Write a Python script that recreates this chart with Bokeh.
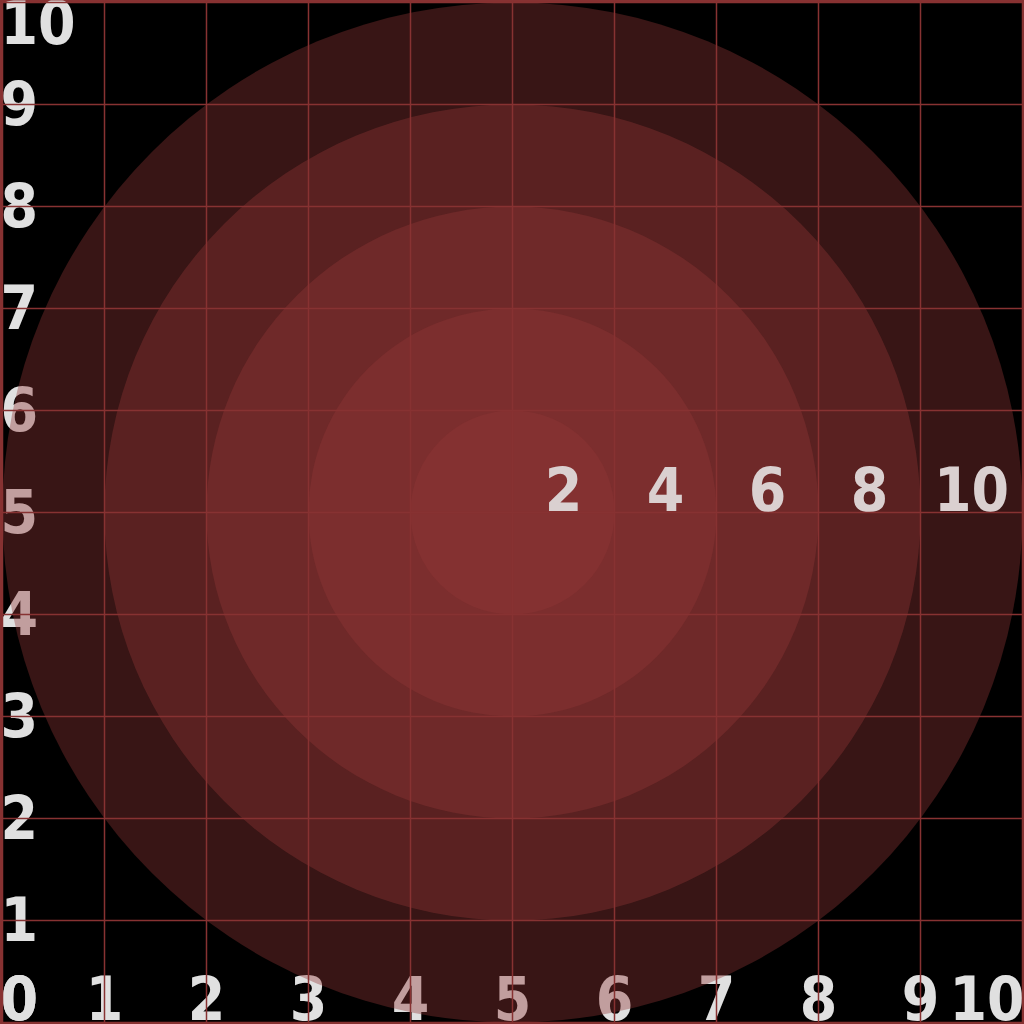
from bokeh.plotting import figure
from bokeh.models import Range1d, Grid, FixedTicker, ColumnDataSource
from bokeh.core.properties import value
from bokeh.embed import file_html
from bokeh.resources import INLINE

# ---- data ----
tick_values = [0, 1, 2, 3, 4, 5, 6, 7, 8, 9, 10]
tick_labels = ["0", "1", "2", "3", "4", "5", "6", "7", "8", "9", "10"]
center_x = 5
center_y = 5
ring_radii = [5, 4, 3, 2, 1]
radial_values = [2, 4, 6, 8, 10]
radial_labels = ["2", "4", "6", "8", "10"]

FONT = value("DejaVu Sans Condensed")
SIZE = 60
FS = f"{SIZE}px"
CAP = 0.729 * SIZE
SHIFT = 0.40 * SIZE   # renderer places alphabetic baseline this much lower
GRID_COL = "#873232"

pad = 2.0 / 102.0
p = figure(width=1024, height=1024, output_backend="svg", toolbar_location=None,
           x_range=Range1d(-pad, 10 + pad), y_range=Range1d(-pad, 10 + pad),
           x_axis_location=None, y_axis_location=None, min_border=0,
           background_fill_color="black", border_fill_color="black")
p.outline_line_color = GRID_COL
p.outline_line_width = 3
p.grid.visible = False

n = len(tick_values)
lo, hi = -pad, 10 + pad

# y tick labels (drawn beneath the rings)
ysrc = ColumnDataSource(dict(
    x=[lo] * n, y=[lo] + tick_values[1:-1] + [hi], t=tick_labels,
    off=[-3 - SHIFT] + [CAP / 2 - SHIFT] * (n - 2) + [CAP + 1 - SHIFT],
))
p.text(x="x", y="y", text="t", source=ysrc, text_font=FONT, text_font_size=FS,
       text_font_style="bold", text_color="#e0e0e0", text_align="left",
       text_baseline="alphabetic", y_offset="off", level="image")

# x tick labels
xsrc = ColumnDataSource(dict(
    x=[lo] + tick_values[1:-1] + [hi], y=[lo] * n, t=tick_labels,
    al=["left"] + ["center"] * (n - 2) + ["right"],
))
p.text(x="x", y="y", text="t", source=xsrc, text_font=FONT, text_font_size=FS,
       text_font_style="bold", text_color="#e0e0e0", text_align="al",
       text_baseline="alphabetic", y_offset=-3 - SHIFT, level="image")

# rings
rsrc = ColumnDataSource(dict(x=[center_x] * len(ring_radii), y=[center_y] * len(ring_radii), r=ring_radii))
p.circle(x="x", y="y", radius="r", source=rsrc, fill_color="#903636",
         fill_alpha=0.39, line_color=None)

# grid on top
for dim in (0, 1):
    g = Grid(dimension=dim, ticker=FixedTicker(ticks=tick_values),
             grid_line_color=GRID_COL, grid_line_width=1.5, level="overlay")
    p.add_layout(g)

# radial labels
lsrc = ColumnDataSource(dict(
    x=[center_x + v / 2 - 0.5 for v in radial_values],
    y=[center_y] * len(radial_values), t=radial_labels,
))
p.text(x="x", y="y", text="t", source=lsrc, text_font=FONT, text_font_size=FS,
       text_font_style="bold", text_color="#dad0d0", text_align="center",
       text_baseline="alphabetic", y_offset=-SHIFT, level="overlay")

open("out.html", "w").write(file_html(p, INLINE))
